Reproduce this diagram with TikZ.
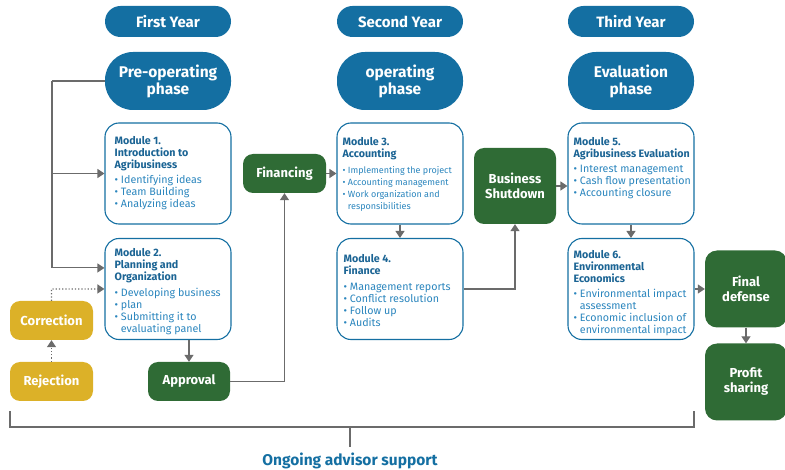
\documentclass[tikz,border=0pt]{standalone}
\usepackage{fontspec}
\setmainfont{Fira Sans}
\usetikzlibrary{arrows.meta,calc}
\definecolor{pillblue}{HTML}{146FA2}
\definecolor{titleblue}{HTML}{1B6494}
\definecolor{bulletblue}{HTML}{2B86BE}
\definecolor{boxgreen}{HTML}{2F6B35}
\definecolor{boxyellow}{HTML}{DCB128}
\definecolor{linegray}{HTML}{6B6B6B}
\begin{document}
\begin{tikzpicture}[x=1pt,y=-1pt,
  pill/.style={fill=pillblue,text=white,font=\bfseries\fontsize{15}{17}\selectfont,
    minimum width=126pt,minimum height=31pt,inner sep=0pt,rounded corners=15.5pt,align=center},
  phase/.style={fill=pillblue,text=white,font=\bfseries\fontsize{15.5}{17}\selectfont,
    minimum width=126pt,minimum height=58pt,inner sep=0pt,rounded corners=28pt,align=center},
  modbox/.style={draw=pillblue,line width=1.1pt,fill=white,minimum width=126pt,minimum height=101pt,
    inner sep=0pt,rounded corners=14pt},
  modtext/.style={anchor=north west,inner sep=0pt,align=left,text=bulletblue,
    font=\fontsize{10.7}{12}\selectfont},
  greenbox/.style={fill=boxgreen,text=white,font=\bfseries\fontsize{13}{15}\selectfont,
    inner sep=0pt,rounded corners=10pt,align=center},
  yellowbox/.style={fill=boxyellow,text=white,font=\bfseries\fontsize{13}{15}\selectfont,
    minimum width=83pt,minimum height=39pt,inner sep=0pt,rounded corners=10pt,align=center},
  conn/.style={draw=linegray,line width=1.1pt,-{Triangle[length=7pt,width=9pt]}},
  plain/.style={draw=linegray,line width=1.1pt},
  dotconn/.style={draw=linegray,line width=1.2pt,dotted,-{Triangle[length=7pt,width=9pt]}}
]
\useasboundingbox (0,0) rectangle (785,470);
\newcommand{\mtitle}[1]{{\color{titleblue}\bfseries #1}}
\newcommand{\bl}{\textbullet\ }
\newcommand{\sm}{\fontsize{9}{12}\selectfont}
% pills
\node[pill] (y1) at (168,21.5) {First Year};
\node[pill] (y2) at (400,21.5) {Second Year};
\node[pill] (y3) at (631,21.5) {Third Year};
% phases
\node[phase] (p1) at (168,81) {Pre-operating\\phase};
\node[phase] (p2) at (400,81) {operating\\phase};
\node[phase] (p3) at (631,81) {Evaluation\\phase};
% modules
\node[modbox] (m1) at (168,173.5) {};
\node[modbox] (m2) at (168,289) {};
\node[modbox] (m3) at (400,173.5) {};
\node[modbox] (m4) at (400,289) {};
\node[modbox] (m5) at (631,173.5) {};
\node[modbox] (m6) at (631,289) {};
\node[modtext] (t1) at ($(m1.north west)+(10,13.5)$) {\mtitle{Module 1.}\\\mtitle{Introduction to}\\\mtitle{Agribusiness}\\[3.5pt]
  \bl Identifying ideas\\\bl Team Building\\\bl Analyzing ideas};
\node[modtext] (t2) at ($(m2.north west)+(10,10.5)$) {\mtitle{Module 2.}\\\mtitle{Planning and}\\\mtitle{Organization}\\[3.5pt]
  \bl Developing business\\\bl plan\\\bl Submitting it to\\\hphantom{\bl}evaluating panel};
\node[modtext] (t3) at ($(m3.north west)+(6,15)$) {\mtitle{Module 3.}\\\mtitle{Accounting}\\[3.5pt]
  {\sm\bl Implementing the project}\\{\sm\bl Accounting management}\\{\sm\bl Work organization and}\\{\sm\hphantom{\bl}responsibilities}};
\node[modtext] (t4) at ($(m4.north west)+(7,16.5)$) {\mtitle{Module 4.}\\\mtitle{Finance}\\[3.5pt]
  \bl Management reports\\\bl Conflict resolution\\\bl Follow up\\\bl Audits};
\node[modtext] (t5) at ($(m5.north west)+(6,14.5)$) {\mtitle{Module 5.}\\\mtitle{Agribusiness Evaluation}\\[3.5pt]
  \bl Interest management\\\bl Cash flow presentation\\\bl Accounting closure};
\node[modtext] (t6) at ($(m6.north west)+(6,12.5)$) {\mtitle{Module 6.}\\\mtitle{Environmental}\\\mtitle{Economics}\\[2.5pt]
  \bl Environmental impact\\\hphantom{\bl}assessment\\\bl Economic inclusion of\\\hphantom{\bl}environmental impact};
% green boxes
\node[greenbox,minimum width=83pt,minimum height=39pt] (fin) at (284.5,173.5) {Financing};
\node[greenbox,minimum width=82pt,minimum height=76pt] (bs) at (515,186) {Business\\Shutdown};
\node[greenbox,minimum width=82pt,minimum height=39pt] (app) at (189,381.5) {Approval};
\node[greenbox,minimum width=82pt,minimum height=77pt,rounded corners=12pt] (fd) at (746,289) {Final\\defense};
\node[greenbox,minimum width=82pt,minimum height=77pt,rounded corners=12pt] (ps) at (746,382) {Profit\\sharing};
% yellow
\node[yellowbox] (cor) at (51.5,320.5) {Correction};
\node[yellowbox] (rej) at (51.5,381.5) {Rejection};
% connectors
\coordinate (lt) at (52,81);
\draw[plain] (p1.west) -- (lt);
\draw[conn] (lt) |- (m1.west);
\draw[conn] (lt) |- ($(m2.north west)+(0,30)$);
\coordinate (cc) at (51.5,289);
\draw[dotconn] (cor.north) -- (cc) -- ($(m2.north west)+(0,51)$);
\draw[dotconn] (rej.north) -- (cor.south);
\draw[conn] (m2.south -| app.north) -- (app.north);
\draw[conn] (app.east) -| (fin.south);
\draw[conn] (fin.east) -- (m3.west |- fin.east);
\draw[conn] (m3.south) -- (m4.north);
\draw[conn] (m4.east) -| (bs.south);
\draw[conn] (bs.east) -- (m5.west |- bs.east);
\draw[conn] (m5.south) -- (m6.north);
\draw[conn] (m6.east) -- (fd.west);
\draw[conn] (fd.south) -- (ps.north);
% bottom bracket
\coordinate (bl) at (10,411);
\coordinate (br) at (694,411);
\coordinate (bm) at (350,427);
\draw[plain] (bl) -- (10,427) -- (694,427) -- (br);
\node[inner sep=0pt,text=pillblue,font=\bfseries\fontsize{15.5}{17}\selectfont] (lab) at (350,461) {Ongoing advisor support};
\draw[plain] (bm) -- (350,447);
\end{tikzpicture}
\end{document}
